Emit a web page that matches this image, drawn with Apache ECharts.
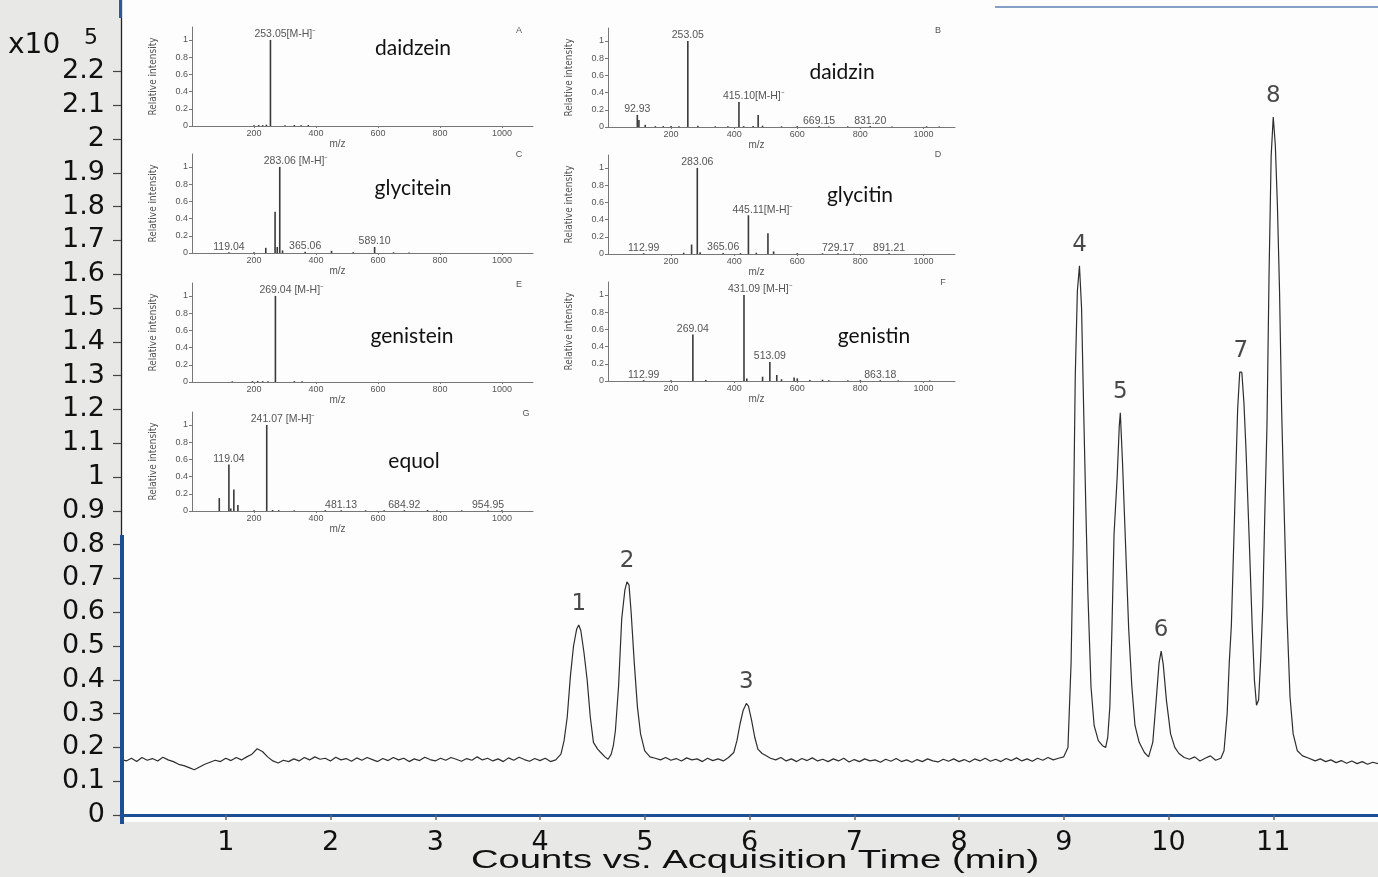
<!DOCTYPE html>
<html>
<head>
<meta charset="utf-8">
<script src="https://cdn.jsdelivr.net/npm/echarts@6/dist/echarts.min.js"></script>
<style>
html,body{margin:0;padding:0;background:#e8e8e6;}
#c{width:1378px;height:877px;}
</style>
</head>
<body>
<div id="c"></div>
<script>
// ---------------- DATA ----------------
// Chromatogram: [time (min), counts (x10^5)]
const chromData = [
[0.00,.165],[0.05,.160],[0.10,.168],[0.15,.158],[0.20,.170],[0.25,.162],[0.30,.167],[0.35,.160],[0.40,.171],[0.45,.163],
[0.50,.158],[0.55,.150],[0.60,.146],[0.65,.140],[0.70,.134],[0.75,.142],[0.80,.150],[0.85,.156],[0.90,.162],[0.95,.158],
[1.00,.168],[1.05,.161],[1.10,.170],[1.15,.163],[1.20,.172],[1.25,.180],[1.30,.196],[1.35,.188],[1.40,.172],[1.45,.160],
[1.50,.154],[1.55,.162],[1.60,.158],[1.65,.166],[1.70,.160],[1.75,.170],[1.80,.163],[1.85,.172],[1.90,.165],[1.95,.168],
[2.00,.160],[2.05,.171],[2.10,.163],[2.15,.167],[2.20,.159],[2.25,.169],[2.30,.162],[2.35,.170],[2.40,.164],[2.45,.158],
[2.50,.167],[2.55,.161],[2.60,.170],[2.65,.163],[2.70,.168],[2.75,.158],[2.80,.166],[2.85,.161],[2.90,.171],[2.95,.164],
[3.00,.160],[3.05,.168],[3.10,.162],[3.15,.170],[3.20,.165],[3.25,.159],[3.30,.167],[3.35,.162],[3.40,.172],[3.45,.163],
[3.50,.168],[3.55,.160],[3.60,.166],[3.65,.158],[3.70,.169],[3.75,.162],[3.80,.171],[3.85,.164],[3.90,.159],[3.95,.167],
[4.00,.161],[4.05,.168],[4.10,.158],[4.15,.163],[4.20,.180],[4.23,.220],[4.26,.290],[4.29,.410],[4.32,.500],[4.35,.550],
[4.37,.562],[4.39,.545],[4.42,.480],[4.45,.400],[4.48,.290],[4.51,.215],[4.55,.195],[4.58,.185],[4.62,.172],[4.65,.165],
[4.68,.180],[4.70,.205],[4.72,.250],[4.75,.380],[4.78,.580],[4.81,.665],[4.83,.690],[4.85,.680],[4.87,.600],[4.90,.450],
[4.93,.320],[4.96,.240],[5.00,.190],[5.05,.172],[5.10,.168],[5.15,.163],[5.20,.170],[5.25,.162],[5.30,.167],[5.35,.160],
[5.40,.169],[5.45,.163],[5.50,.166],[5.55,.158],[5.60,.168],[5.65,.161],[5.70,.166],[5.75,.160],[5.80,.170],[5.85,.185],
[5.88,.220],[5.91,.270],[5.94,.310],[5.97,.330],[5.99,.322],[6.02,.280],[6.05,.230],[6.08,.195],[6.12,.182],[6.16,.175],
[6.20,.168],[6.25,.163],[6.30,.170],[6.35,.160],[6.40,.166],[6.45,.158],[6.50,.167],[6.55,.161],[6.60,.169],[6.65,.160],
[6.70,.165],[6.75,.158],[6.80,.166],[6.85,.160],[6.90,.168],[6.95,.157],[7.00,.164],[7.05,.158],[7.10,.166],[7.15,.160],
[7.20,.163],[7.25,.156],[7.30,.165],[7.35,.159],[7.40,.167],[7.45,.158],[7.50,.163],[7.55,.156],[7.60,.164],[7.65,.158],
[7.70,.166],[7.75,.160],[7.80,.157],[7.85,.165],[7.90,.159],[7.95,.166],[8.00,.158],[8.05,.164],[8.10,.157],[8.15,.166],
[8.20,.160],[8.25,.168],[8.30,.159],[8.35,.165],[8.40,.158],[8.45,.167],[8.50,.161],[8.55,.169],[8.60,.160],[8.65,.166],
[8.70,.159],[8.75,.168],[8.80,.162],[8.85,.170],[8.90,.163],[8.95,.168],[9.00,.172],[9.04,.200],[9.07,.450],[9.09,.800],
[9.11,1.300],[9.13,1.550],[9.15,1.625],[9.17,1.500],[9.19,1.200],[9.21,.920],[9.23,.660],[9.26,.380],[9.29,.265],[9.33,.220],
[9.37,.205],[9.40,.200],[9.42,.230],[9.44,.320],[9.46,.550],[9.48,.830],[9.51,1.000],[9.53,1.150],[9.54,1.190],[9.56,1.050],
[9.59,.800],[9.62,.550],[9.65,.380],[9.68,.265],[9.72,.215],[9.77,.185],[9.81,.172],[9.85,.215],[9.88,.330],[9.91,.450],
[9.93,.485],[9.95,.445],[9.98,.340],[10.02,.240],[10.06,.200],[10.10,.182],[10.15,.170],[10.20,.165],[10.25,.172],[10.30,.160],
[10.35,.168],[10.40,.175],[10.45,.162],[10.50,.168],[10.53,.190],[10.56,.300],[10.58,.450],[10.60,.560],[10.63,.880],[10.66,1.200],
[10.68,1.310],[10.70,1.310],[10.72,1.220],[10.74,1.080],[10.77,.820],[10.80,.550],[10.82,.400],[10.84,.325],[10.86,.340],[10.88,.460],
[10.90,.620],[10.92,.900],[10.94,1.150],[10.96,1.600],[10.98,1.950],[11.00,2.065],[11.02,1.980],[11.04,1.800],[11.06,1.550],[11.08,1.200],
[11.10,.950],[11.13,.600],[11.16,.350],[11.19,.240],[11.23,.190],[11.28,.175],[11.34,.168],[11.40,.160],[11.45,.166],[11.50,.158],
[11.55,.163],[11.60,.155],[11.65,.161],[11.70,.153],[11.75,.160],[11.80,.152],[11.85,.158],[11.90,.150],[11.95,.156],[12.00,.152]
];
const peakIds     = ['1','2','3','4','5','6','7','8'];
const peakTimes   = [4.37, 4.83, 5.97, 9.15, 9.54, 9.93, 10.69, 11.00];
const peakHeights = [0.562, 0.690, 0.330, 1.625, 1.190, 0.485, 1.310, 2.065];

const yTickValues = [0,0.1,0.2,0.3,0.4,0.5,0.6,0.7,0.8,0.9,1,1.1,1.2,1.3,1.4,1.5,1.6,1.7,1.8,1.9,2,2.1,2.2];
const xTickValues = [1,2,3,4,5,6,7,8,9,10,11];
const xAxisTitle = 'Counts vs. Acquisition Time (min)';
const yScaleText = 'x10';
const yScaleExp = '5';

// Mass spectra insets: [m/z, relative intensity]
const insetLetters = ['A','B','C','D','E','F','G'];
const insetNames = ['daidzein','daidzin','glycitein','glycitin','genistein','genistin','equol'];
const specA = [[200,0.01],[215,0.012],[228,0.01],[240,0.015],[253.05,1.0],[300,0.01],[330,0.012],[352,0.01],[375,0.012]];
const specB = [[92.93,0.14],[98,0.08],[118,0.025],[150,0.01],[175,0.01],[200,0.012],[225,0.01],[253.05,1.0],[285,0.015],[340,0.008],[380,0.01],[415.10,0.29],[430,0.01],[460,0.012],[476,0.14],[490,0.015],[550,0.008],[600,0.01],[669.15,0.01],[700,0.006],[760,0.008],[831.20,0.01],[900,0.006],[1010,0.008],[1050,0.006]];
const specC = [[119.04,0.01],[200,0.01],[238,0.06],[268,0.48],[275,0.07],[283.06,1.0],[292,0.03],[365.06,0.015],[450,0.025],[520,0.008],[589.10,0.07],[650,0.008],[700,0.006]];
const specD = [[112.99,0.01],[240,0.015],[265,0.11],[283.06,1.0],[292,0.02],[365.06,0.012],[420,0.01],[445.11,0.45],[470,0.015],[507,0.24],[525,0.03],[600,0.01],[680,0.008],[729.17,0.01],[780,0.006],[891.21,0.008]];
const specE = [[130,0.008],[195,0.01],[212,0.012],[228,0.01],[245,0.008],[269.04,1.0],[330,0.01],[355,0.008]];
const specF = [[112.99,0.01],[200,0.008],[269.04,0.54],[310,0.012],[431.09,1.0],[440,0.03],[490,0.05],[513.09,0.22],[535,0.07],[550,0.02],[590,0.04],[600,0.03],[640,0.012],[680,0.015],[700,0.01],[760,0.008],[800,0.01],[863.18,0.01],[920,0.008],[1020,0.006]];
const specG = [[88,0.15],[119.04,0.54],[125,0.03],[135,0.25],[148,0.07],[200,0.01],[241.07,1.0],[260,0.012],[280,0.01],[330,0.008],[430,0.01],[481.13,0.01],[560,0.008],[620,0.01],[684.92,0.01],[760,0.012],[790,0.01],[870,0.008],[954.95,0.01],[1000,0.008]];
// peak annotations: [m/z, text]
const lblA = [[253.05,'253.05[M-H]⁻']];
const lblB = [[92.93,'92.93'],[253.05,'253.05'],[415.10,'415.10[M-H]⁻'],[669.15,'669.15'],[831.20,'831.20']];
const lblC = [[283.06,'283.06 [M-H]⁻'],[119.04,'119.04'],[365.06,'365.06'],[589.10,'589.10']];
const lblD = [[283.06,'283.06'],[445.11,'445.11[M-H]⁻'],[112.99,'112.99'],[365.06,'365.06'],[729.17,'729.17'],[891.21,'891.21']];
const lblE = [[269.04,'269.04 [M-H]⁻']];
const lblF = [[431.09,'431.09 [M-H]⁻'],[269.04,'269.04'],[513.09,'513.09'],[112.99,'112.99'],[863.18,'863.18']];
const lblG = [[241.07,'241.07 [M-H]⁻'],[119.04,'119.04'],[481.13,'481.13'],[684.92,'684.92'],[954.95,'954.95']];
const mzTicks = [200,400,600,800,1000];
const relTicks = [0,0.2,0.4,0.6,0.8,1];
const insetYName = 'Relative intensity';
const insetXName = 'm/z';

const spectra = [specA,specB,specC,specD,specE,specF,specG];
const spectraLabels = [lblA,lblB,lblC,lblD,lblE,lblF,lblG];

// ---------------- LAYOUT ----------------
const insetBoxes = [
  {left:192, top:27,  width:341},
  {left:608, top:28,  width:347},
  {left:192, top:154, width:341},
  {left:608, top:155, width:347},
  {left:192, top:283, width:341},
  {left:608, top:282, width:347},
  {left:192, top:412, width:341}
];
const insetH = 99;
const namePos = [[413,48],[842,72],[413,188],[860,195],[412,336],[874,336],[414,461]];
const letterPos = [[519,31],[938,31],[519,155],[938,155],[519,285],[943,283],[526,414]];

const smallFont = 'Liberation Sans, Arial, sans-serif';
const bigFont = 'DejaVu Sans, sans-serif';

const grids = [{left:121, right:0, top:0, bottom:55, show:true, backgroundColor:'#fdfdfd', borderWidth:0}];
const xAxes = [{
  type:'value', gridIndex:0, min:0, max:12,
  axisLine:{show:true, lineStyle:{color:'#1d4f96', width:3}},
  axisTick:{show:true, customValues:xTickValues, length:5, lineStyle:{color:'#666', width:1.5}},
  axisLabel:{customValues:xTickValues, fontSize:27, fontFamily:bigFont, color:'#111', margin:7},
  splitLine:{show:false}
}];
const yAxes = [{
  type:'value', gridIndex:0, min:-0.0207, max:2.4112,
  axisLine:{show:true, lineStyle:{color:'#222', width:1.3}},
  axisTick:{show:true, customValues:yTickValues, length:8, lineStyle:{color:'#444', width:1.2}},
  axisLabel:{customValues:yTickValues, fontSize:27, fontFamily:bigFont, color:'#111', margin:16},
  splitLine:{show:false}
}];
const series = [
  {type:'line', xAxisIndex:0, yAxisIndex:0, data:chromData, showSymbol:false, symbol:'none',
   lineStyle:{color:'#2e2e2e', width:1.2}, z:3, silent:true},
  {type:'scatter', xAxisIndex:0, yAxisIndex:0, symbolSize:1, itemStyle:{color:'rgba(0,0,0,0)'},
   data:peakTimes.map((t,i)=>({value:[t,peakHeights[i]], name:peakIds[i]})),
   label:{show:true, position:'top', distance:9, formatter:p=>p.name, fontSize:23, fontFamily:bigFont, color:'#1a1a1a'}, z:4}
];

insetBoxes.forEach((b,i)=>{
  const gi = i+1;
  grids.push({left:b.left, top:b.top, width:b.width, height:insetH, show:false});
  xAxes.push({
    type:'value', gridIndex:gi, min:0, max:1100,
    name:insetXName, nameLocation:'middle', nameGap:12,
    nameTextStyle:{fontSize:10, fontFamily:smallFont, color:'#555', padding:[0,50,0,0]},
    axisLine:{show:true, lineStyle:{color:'#777', width:1}},
    axisTick:{show:true, customValues:mzTicks, length:2, lineStyle:{color:'#777'}},
    axisLabel:{customValues:mzTicks, formatter:v=>String(v), fontSize:9, fontFamily:smallFont, color:'#555', margin:3},
    splitLine:{show:false}
  });
  yAxes.push({
    type:'value', gridIndex:gi, min:0, max:1.15,
    name:insetYName, nameLocation:'middle', nameGap:34, nameRotate:90,
    nameTextStyle:{fontSize:10, fontFamily:'Liberation Sans Narrow, DejaVu Sans Condensed, sans-serif', color:'#555'},
    axisLine:{show:true, lineStyle:{color:'#777', width:1}},
    axisTick:{show:true, customValues:relTicks, length:3, lineStyle:{color:'#777'}},
    axisLabel:{customValues:relTicks, fontSize:9, fontFamily:smallFont, color:'#555', margin:4},
    splitLine:{show:false}
  });
  const lmap = {};
  spectraLabels[i].forEach(([mz,txt])=>{lmap[String(mz)] = txt;});
  const data = spectra[i].map(([mz,v])=>{
    const txt = lmap[String(mz)];
    if (!txt) return [mz,v];
    const suffix = txt.indexOf('[') >= 0;
    return {value:[mz,v], label:{show:true, position:'top', distance:0, formatter:txt,
      align: suffix ? 'left' : 'center', offset: suffix ? [-16,0] : [0,0],
      fontSize:10.5, fontFamily:smallFont, color:'#555'}};
  });
  series.push({type:'bar', xAxisIndex:gi, yAxisIndex:gi, data:data, barWidth:1.6,
    itemStyle:{color:'#3a3a3a'}, z:5, silent:true, animation:false});
});

const graphics = [
  // blue frame remnants
  {type:'rect', shape:{x:120, y:535, width:4, height:289}, style:{fill:'#1d4f96'}, z:100},
  {type:'rect', shape:{x:119, y:0, width:3, height:18}, style:{fill:'#2a5aa0'}, z:100},
  {type:'line', shape:{x1:995, y1:7, x2:1378, y2:7}, style:{stroke:'#5d7fb5', lineWidth:1.5}, z:100},
  // scale factor label
  {type:'text', x:8, y:46, style:{text:yScaleText, font:'28px DejaVu Sans, sans-serif', fill:'#111', textVerticalAlign:'middle'}, z:100},
  {type:'text', x:84, y:38, style:{text:yScaleExp, font:'22px DejaVu Sans, sans-serif', fill:'#111', textVerticalAlign:'middle'}, z:100},
  // x axis title (stretched like the source)
  {type:'text', x:755, y:861, scaleX:1.53, style:{text:xAxisTitle, font:'25px Liberation Sans, Arial, sans-serif', fill:'#111', textAlign:'center', textVerticalAlign:'middle'}, z:100}
];
insetNames.forEach((n,i)=>{
  graphics.push({type:'text', x:namePos[i][0], y:namePos[i][1], style:{text:n, font:'21px Lato, Open Sans, sans-serif', fill:'#111', textAlign:'center', textVerticalAlign:'middle'}, z:100});
  graphics.push({type:'text', x:letterPos[i][0], y:letterPos[i][1], style:{text:insetLetters[i], font:'9px Liberation Sans, Arial, sans-serif', fill:'#555', textAlign:'center', textVerticalAlign:'middle'}, z:100});
});

const chart = echarts.init(document.getElementById('c'), null, {renderer:'canvas'});
chart.setOption({
  backgroundColor:'#e8e8e6',
  animation:false,
  grid:grids, xAxis:xAxes, yAxis:yAxes, series:series, graphic:graphics
});
</script>
</body>
</html>
